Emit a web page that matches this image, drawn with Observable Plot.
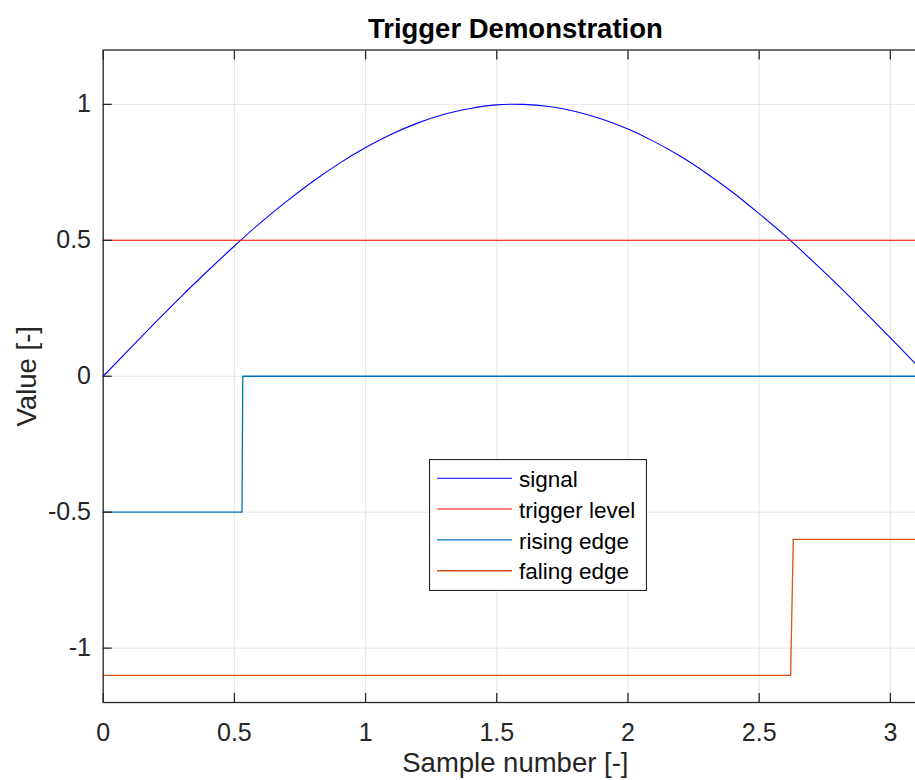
<!DOCTYPE html>
<html>
<head>
<meta charset="utf-8">
<script src="https://cdn.jsdelivr.net/npm/d3@7"></script>
<script src="https://cdn.jsdelivr.net/npm/@observablehq/plot@0.6"></script>
<style>
  html, body { margin: 0; padding: 0; background: #fff; overflow: hidden; }
  #wrap { position: relative; width: 915px; height: 780px; overflow: hidden; background: #fff; }
  #legend { position: absolute; left: 429px; top: 459px; }
</style>
</head>
<body>
<div id="wrap"></div>
<script>
// ---- data ----
const titleText = "Trigger Demonstration";
const xLabel = "Sample number [-]";
const yLabel = "Value [-]";

const xTicks = [0, 0.5, 1, 1.5, 2, 2.5, 3];
const yTicks = [-1, -0.5, 0, 0.5, 1];
const xDomain = [0, 3.1416];
const yDomain = [-1.2, 1.2];

const sampleX = [0, 0.1, 0.2, 0.3, 0.4, 0.5, 0.6, 0.7, 0.8, 0.9, 1.0, 1.1, 1.2, 1.3, 1.4, 1.5,
                 1.6, 1.7, 1.8, 1.9, 2.0, 2.1, 2.2, 2.3, 2.4, 2.5, 2.6, 2.7, 2.8, 2.9, 3.0, 3.1, 3.1416];
const signalY = [0, 0.100, 0.199, 0.296, 0.389, 0.479, 0.565, 0.644, 0.717, 0.783, 0.841, 0.891, 0.932, 0.964, 0.985, 0.998,
                 1.000, 0.992, 0.974, 0.946, 0.909, 0.863, 0.809, 0.746, 0.676, 0.598, 0.516, 0.427, 0.335, 0.239, 0.141, 0.042, 0];

const triggerLevel = 0.5;

const risingX = [0, 0.529, 0.532, 3.1416];
const risingY = [-0.5, -0.5, 0, 0];

const fallingX = [0, 2.620, 2.630, 3.1416];
const fallingY = [-1.1, -1.1, -0.6, -0.6];

const seriesNames = ["signal", "trigger level", "rising edge", "faling edge"];
const seriesColors = ["#0000ff", "#ff0000", "#0072bd", "#d95319"];

// ---- tables ----
const signal = sampleX.map((x, i) => ({x, y: signalY[i]}));
const rising = risingX.map((x, i) => ({x, y: risingY[i]}));
const falling = fallingX.map((x, i) => ({x, y: fallingY[i]}));

const font = "'Liberation Sans', Arial, Helvetica, sans-serif";
const axisColor = "#262626";
const gridColor = "#e6e6e6";

const chart = Plot.plot({
  width: 915,
  height: 780,
  marginTop: 49.5,
  marginBottom: 78,
  marginLeft: 102.7,
  marginRight: -12,
  style: {fontFamily: font, fontSize: "25px", color: axisColor, background: "white", overflow: "hidden"},
  x: {domain: xDomain},
  y: {domain: yDomain},
  marks: [
    Plot.gridX(xTicks, {stroke: gridColor, strokeOpacity: 1, strokeWidth: 1}),
    Plot.gridY(yTicks, {stroke: gridColor, strokeOpacity: 1, strokeWidth: 1}),
    Plot.line(signal, {x: "x", y: "y", stroke: seriesColors[0], strokeWidth: 1.1, curve: "natural"}),
    Plot.ruleY([triggerLevel], {stroke: seriesColors[1], strokeWidth: 1.1}),
    Plot.line(rising, {x: "x", y: "y", stroke: seriesColors[2], strokeWidth: 1.3}),
    Plot.line(falling, {x: "x", y: "y", stroke: seriesColors[3], strokeWidth: 1.3}),
    Plot.frame({stroke: axisColor, strokeWidth: 1.3}),
    // tick labels
    Plot.axisX({anchor: "bottom", ticks: xTicks, tickSize: 0, tickPadding: 20.8, tickFormat: d => String(d), label: null, fontSize: 25, fill: axisColor}),
    Plot.axisY({anchor: "left", ticks: yTicks, tickSize: 0, tickPadding: 12.2, tickFormat: d => String(d), label: null, fontSize: 25, fill: axisColor}),
    // inward ticks
    Plot.axisX({anchor: "bottom", ticks: xTicks, tickSize: -9, tickFormat: () => "", label: null, stroke: axisColor, strokeWidth: 1.3}),
    Plot.axisX({anchor: "top", ticks: xTicks, tickSize: -9, tickFormat: () => "", label: null, stroke: axisColor, strokeWidth: 1.3}),
    Plot.axisY({anchor: "left", ticks: yTicks, tickSize: -9, tickFormat: () => "", label: null, stroke: axisColor, strokeWidth: 1.3}),
    // title and axis labels
    Plot.text([titleText], {text: d => d, frameAnchor: "top", lineAnchor: "middle", textAnchor: "middle", dy: -21, fontSize: 27.5, fontWeight: "bold", fill: "#000"}),
    Plot.text([xLabel], {text: d => d, frameAnchor: "bottom", lineAnchor: "middle", textAnchor: "middle", dy: 60.9, fontSize: 27.5, fill: axisColor}),
    Plot.text([yLabel], {text: d => d, frameAnchor: "left", lineAnchor: "middle", textAnchor: "middle", dx: -76.5, rotate: -90, fontSize: 27.5, fill: axisColor})
  ]
});

const wrap = document.getElementById("wrap");
wrap.appendChild(chart);

// ---- legend (SVG overlay) ----
const lw = 217, lh = 131;
const rowLine = [19.3, 50, 80.9, 111.8];
const rowBase = [27.7, 58.6, 89.5, 120.4];
const legend = d3.create("svg")
  .attr("id", "legend")
  .attr("width", lw + 1)
  .attr("height", lh + 1)
  .style("font-family", font);
legend.append("rect")
  .attr("x", 0.5).attr("y", 0.5).attr("width", lw).attr("height", lh)
  .attr("fill", "white").attr("stroke", axisColor).attr("stroke-width", 1.2);
seriesNames.forEach((name, i) => {
  legend.append("line")
    .attr("x1", 8).attr("x2", 83)
    .attr("y1", rowLine[i]).attr("y2", rowLine[i])
    .attr("stroke", seriesColors[i]).attr("stroke-width", i < 2 ? 1.1 : 1.4);
  legend.append("text")
    .attr("x", 90).attr("y", rowBase[i])
    .attr("font-size", 22.5).attr("fill", "#000")
    .text(name);
});
wrap.appendChild(legend.node());
</script>
</body>
</html>
